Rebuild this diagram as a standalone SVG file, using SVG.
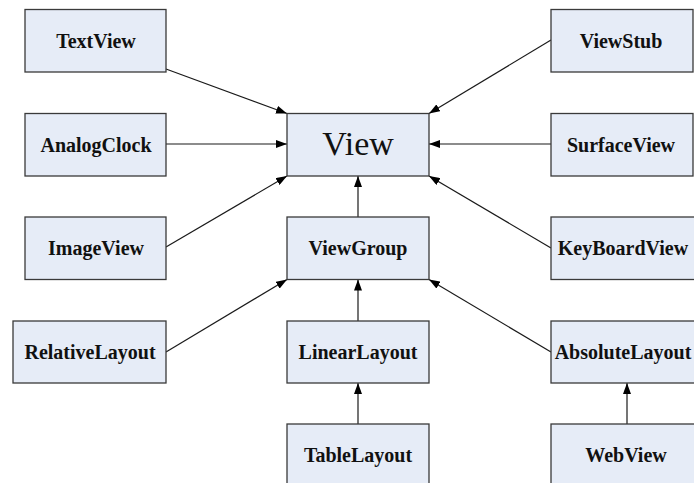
<svg xmlns="http://www.w3.org/2000/svg" width="694" height="483" viewBox="0 0 694 483">
  <style>
    .box { fill: #E6ECF7; stroke: #3a3a3a; stroke-width: 1.3; }
    .lbl { font-family: "Liberation Serif", "Times New Roman", serif; font-weight: bold; font-size: 20px; fill: #111; text-anchor: middle; }
    .big { font-family: "Liberation Serif", "Times New Roman", serif; font-size: 34px; fill: #111; text-anchor: middle; }
    .edge { stroke: #1a1a1a; stroke-width: 1.2; fill: none; marker-end: url(#arrow); }
  </style>
  <defs>
    <marker id="arrow" viewBox="0 0 11 8" refX="11" refY="4" markerWidth="11" markerHeight="8" markerUnits="userSpaceOnUse" orient="auto">
      <path d="M0,0 L11,4 L0,8 Z" fill="#000"/>
    </marker>
  </defs>
  <rect width="694" height="483" fill="#fff"/>

  <g id="connectors">
    <line class="edge" x1="166" y1="69" x2="287" y2="113.5"/>
    <line class="edge" x1="166" y1="144" x2="287" y2="144"/>
    <line class="edge" x1="166" y1="247" x2="287" y2="176"/>
    <line class="edge" x1="166" y1="352" x2="287" y2="279.5"/>
    <line class="edge" x1="358" y1="217" x2="358" y2="176"/>
    <line class="edge" x1="358" y1="321" x2="358" y2="279.5"/>
    <line class="edge" x1="358" y1="424" x2="358" y2="383"/>
    <line class="edge" x1="551" y1="40" x2="429" y2="113.5"/>
    <line class="edge" x1="551" y1="144" x2="429" y2="144"/>
    <line class="edge" x1="551" y1="248" x2="429" y2="176"/>
    <line class="edge" x1="551" y1="352" x2="429" y2="279.5"/>
    <line class="edge" x1="627" y1="424" x2="627" y2="383"/>
  </g>

  <g id="View">
    <rect class="box" x="287" y="113.5" width="142" height="62.5"/>
    <text class="big" x="358" y="155">View</text>
  </g>
  <g id="TextView">
    <rect class="box" x="25" y="9.5" width="141" height="62.5"/>
    <text class="lbl" x="96" y="47.5">TextView</text>
  </g>
  <g id="AnalogClock">
    <rect class="box" x="25" y="113.5" width="141" height="62.5"/>
    <text class="lbl" x="96" y="151.5">AnalogClock</text>
  </g>
  <g id="ImageView">
    <rect class="box" x="25" y="217" width="141" height="62.5"/>
    <text class="lbl" x="96" y="255">ImageView</text>
  </g>
  <g id="RelativeLayout">
    <rect class="box" x="13" y="321" width="153" height="62"/>
    <text class="lbl" x="90" y="359">RelativeLayout</text>
  </g>
  <g id="ViewGroup">
    <rect class="box" x="287" y="217" width="142" height="62.5"/>
    <text class="lbl" x="358" y="255">ViewGroup</text>
  </g>
  <g id="LinearLayout">
    <rect class="box" x="287" y="321" width="142" height="62"/>
    <text class="lbl" x="358" y="359">LinearLayout</text>
  </g>
  <g id="TableLayout">
    <rect class="box" x="287" y="424" width="142" height="62"/>
    <text class="lbl" x="358" y="462">TableLayout</text>
  </g>
  <g id="ViewStub">
    <rect class="box" x="551" y="9.5" width="142" height="62.5"/>
    <text class="lbl" x="621" y="47.5">ViewStub</text>
  </g>
  <g id="SurfaceView">
    <rect class="box" x="551" y="113.5" width="142" height="62.5"/>
    <text class="lbl" x="621" y="151.5">SurfaceView</text>
  </g>
  <g id="KeyBoardView">
    <rect class="box" x="551" y="217" width="150" height="62.5"/>
    <text class="lbl" x="623" y="255">KeyBoardView</text>
  </g>
  <g id="AbsoluteLayout">
    <rect class="box" x="551" y="321" width="153" height="62"/>
    <text class="lbl" x="623" y="359">AbsoluteLayout</text>
  </g>
  <g id="WebView">
    <rect class="box" x="551" y="424" width="153" height="62"/>
    <text class="lbl" x="626" y="462">WebView</text>
  </g>
</svg>
